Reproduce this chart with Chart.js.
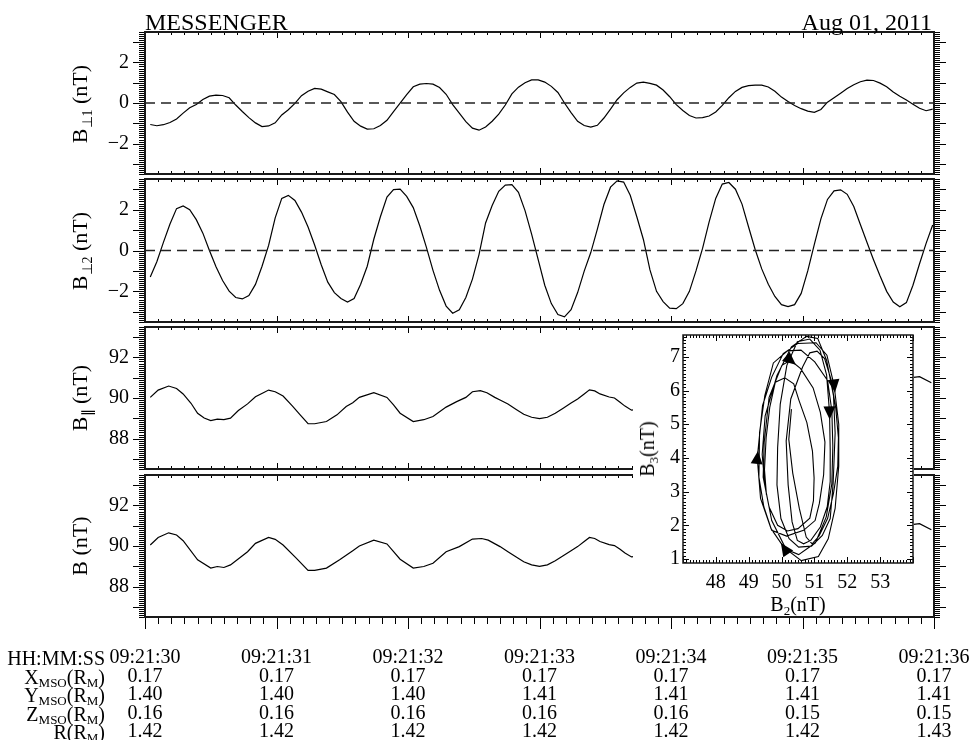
<!DOCTYPE html>
<html><head><meta charset="utf-8">
<script src="https://cdn.jsdelivr.net/npm/chart.js@4.4.1/dist/chart.umd.min.js"></script>
<style>
html,body{margin:0;padding:0;background:#fff;}
body{width:974px;height:740px;position:relative;overflow:hidden;font-family:'Liberation Serif','Times New Roman',serif;color:#000;}
canvas{position:absolute;left:0;}
.t{position:absolute;white-space:nowrap;line-height:1;}
.ylab{position:absolute;transform:translate(-50%,-50%) rotate(-90deg);white-space:nowrap;line-height:1;}
.s22{font-size:14px;position:relative;top:5px;}
.s20{font-size:13px;position:relative;top:4px;}
.s20b{font-size:13px;position:relative;top:3px;}
</style></head>
<body>
<canvas id="p1" width="974" height="166" style="top:20px"></canvas>
<canvas id="p2" width="974" height="167" style="top:167px"></canvas>
<canvas id="p3" width="974" height="166" style="top:315px"></canvas>
<canvas id="p4" width="974" height="277" style="top:463px"></canvas>
<canvas id="ins" width="281" height="287" style="left:633px;top:328px;background:#fff"></canvas>

<div class="t" style="left:145px;top:10px;font-size:24px">MESSENGER</div>
<div class="t" style="right:42px;top:10px;font-size:24px">Aug 01, 2011</div>

<div class="ylab" style="left:80px;top:104px;font-size:22px">B<span class="s22">⊥1</span> (nT)</div>
<div class="ylab" style="left:80px;top:251px;font-size:22px">B<span class="s22">⊥2</span> (nT)</div>
<div class="ylab" style="left:80px;top:398px;font-size:22px">B<span class="s22">∥</span> (nT)</div>
<div class="ylab" style="left:80px;top:546px;font-size:22px">B (nT)</div>

<div class="ylab" style="left:647px;top:449px;font-size:20px">B<span class="s20">3</span>(nT)</div>
<div class="t" style="left:798px;top:594px;font-size:20px;transform:translateX(-50%)">B<span class="s20">2</span>(nT)</div>

<div class="t" style="right:869px;top:648px;font-size:20px">HH:MM:SS</div>
<div class="t" style="right:869px;top:666.5px;font-size:20px">X<span class="s20b">MSO</span>(R<span class="s20b">M</span>)</div>
<div class="t" style="right:869px;top:685px;font-size:20px">Y<span class="s20b">MSO</span>(R<span class="s20b">M</span>)</div>
<div class="t" style="right:869px;top:703.5px;font-size:20px">Z<span class="s20b">MSO</span>(R<span class="s20b">M</span>)</div>
<div class="t" style="right:869px;top:721.5px;font-size:20px">R(R<span class="s20b">M</span>)</div>

<script>
// ---------------- DATA ----------------
// sample times (s after 09:21:30) for the perpendicular components / hodogram
const times = [];
for (let k = 0; k < 120; k++) times.push(+(0.04 + 0.05 * k).toFixed(2));

const bPerp1 = [-1.06,-1.12,-1.07,-0.96,-0.79,-0.50,-0.23,-0.07,0.17,0.34,
 0.39,0.37,0.26,-0.10,-0.42,-0.72,-0.98,-1.16,-1.13,-0.98,
 -0.59,-0.33,-0.02,0.36,0.58,0.72,0.68,0.55,0.42,0.07,
 -0.45,-0.90,-1.14,-1.29,-1.27,-1.11,-0.85,-0.42,-0.01,0.41,
 0.80,0.93,0.96,0.93,0.76,0.43,-0.08,-0.50,-0.92,-1.24,
 -1.34,-1.18,-0.90,-0.55,-0.10,0.45,0.78,1.00,1.14,1.14,
 1.03,0.82,0.52,0.00,-0.47,-0.90,-1.11,-1.19,-1.10,-0.74,
 -0.30,0.16,0.50,0.77,0.98,1.03,0.97,0.88,0.64,0.31,
 -0.08,-0.37,-0.62,-0.74,-0.72,-0.64,-0.44,-0.12,0.26,0.57,
 0.77,0.86,0.88,0.88,0.79,0.58,0.29,0.07,-0.12,-0.28,
 -0.40,-0.46,-0.32,0.04,0.26,0.48,0.71,0.90,1.05,1.13,
 1.11,0.98,0.80,0.54,0.33,0.15,-0.06,-0.26,-0.38,-0.30];

const bPerp2 = [-1.30,-0.55,0.40,1.30,2.05,2.18,2.00,1.51,0.85,0.00,
 -0.80,-1.47,-1.99,-2.30,-2.37,-2.20,-1.66,-0.77,0.25,1.60,
 2.55,2.70,2.45,1.88,1.15,0.27,-0.70,-1.55,-2.06,-2.35,
 -2.52,-2.35,-1.65,-0.77,0.55,1.65,2.62,2.98,3.00,2.65,
 2.10,1.20,0.15,-0.97,-1.95,-2.72,-3.07,-2.90,-2.30,-1.40,
 -0.20,1.35,2.20,2.90,3.20,3.22,2.85,1.95,0.80,-0.45,
 -1.70,-2.60,-3.13,-3.25,-2.90,-2.06,-1.01,-0.10,1.05,2.25,
 3.10,3.41,3.35,2.70,1.65,0.54,-0.95,-2.00,-2.50,-2.82,
 -2.85,-2.60,-2.00,-1.00,0.10,1.40,2.55,3.25,3.33,3.00,
 2.27,1.15,0.05,-0.90,-1.65,-2.25,-2.65,-2.75,-2.65,-2.10,
 -1.00,0.30,1.55,2.50,2.92,2.97,2.75,2.15,1.27,0.40,
 -0.45,-1.25,-2.00,-2.52,-2.75,-2.55,-1.70,-0.65,0.35,1.25];

const bParT = [0.04,0.10,0.18,0.24,0.29,0.35,0.40,0.45,0.50,0.55,0.60,0.65,0.71,0.78,0.84,0.90,0.94,0.99,1.05,1.12,1.18,1.24,1.29,1.38,1.46,1.53,1.58,1.63,1.74,1.84,1.89,1.94,2.04,2.12,2.19,2.29,2.37,2.44,2.49,2.55,2.60,2.66,2.70,2.76,2.82,2.88,2.94,3.00,3.06,3.12,3.18,3.24,3.29,3.34,3.38,3.42,3.46,3.53,3.57,3.61,3.65,3.70,5.83,5.89,5.98];
const bParV = [90.03,90.39,90.59,90.47,90.20,89.74,89.25,89.01,88.89,88.96,88.93,89.01,89.38,89.71,90.06,90.26,90.39,90.31,90.10,89.61,89.17,88.73,88.73,88.84,89.17,89.58,89.77,90.03,90.26,90.03,89.66,89.25,88.84,88.93,89.09,89.55,89.82,90.03,90.31,90.36,90.26,90.03,89.90,89.70,89.45,89.20,89.05,88.98,89.05,89.25,89.50,89.75,89.95,90.20,90.40,90.35,90.20,90.05,90.00,89.80,89.60,89.40,91.00,91.05,90.75];

const bTotT = [0.04,0.10,0.18,0.24,0.29,0.40,0.50,0.55,0.60,0.65,0.78,0.84,0.94,0.99,1.05,1.15,1.24,1.29,1.38,1.48,1.58,1.63,1.74,1.84,1.94,2.04,2.12,2.19,2.29,2.39,2.49,2.56,2.61,2.70,2.76,2.82,2.88,2.94,3.00,3.06,3.12,3.18,3.24,3.29,3.34,3.38,3.42,3.46,3.53,3.57,3.61,3.65,3.70,5.83,5.89,5.98];
const bTotV = [90.05,90.42,90.65,90.54,90.26,89.32,88.91,88.99,88.94,89.07,89.72,90.13,90.42,90.33,90.05,89.40,88.80,88.80,88.91,89.32,89.77,90.00,90.29,90.10,89.35,88.91,88.99,89.15,89.72,89.97,90.34,90.37,90.29,89.97,89.72,89.47,89.22,89.07,89.00,89.07,89.27,89.52,89.77,89.97,90.22,90.42,90.37,90.22,90.07,90.02,89.85,89.65,89.46,91.05,91.10,90.80];

// hodogram (inset): B2 vs B3, same sample times
const hodoB2 = [49.54,49.48,49.53,49.64,49.81,50.10,50.37,50.53,50.77,50.94,
 50.99,50.97,50.86,50.50,50.18,49.88,49.62,49.44,49.47,49.62,
 50.01,50.27,50.58,50.96,51.18,51.32,51.28,51.15,51.02,50.67,
 50.15,49.70,49.46,49.31,49.33,49.49,49.75,50.18,50.59,51.01,
 51.40,51.53,51.56,51.53,51.36,51.03,50.52,50.10,49.68,49.36,
 49.26,49.42,49.70,50.05,50.50,51.05,51.38,51.60,51.74,51.74,
 51.63,51.42,51.12,50.60,50.13,49.70,49.49,49.41,49.50,49.86,
 50.30,50.76,51.10,51.37,51.58,51.63,51.57,51.48,51.24,50.91,
 50.52,50.23,49.98,49.86,49.88,49.96,50.16,50.48,50.86,51.17,
 51.37,51.46,51.48,51.48,51.39,51.18,50.89,50.67,50.48,50.32,
 50.20,50.14,50.28,50.64,50.86,51.08,51.31,51.50,51.65,51.73,
 51.71,51.58,51.40,51.14,50.93,50.75,50.54,50.34,50.22,50.30];
const hodoB3 = [2.90,3.65,4.60,5.50,6.25,6.38,6.20,5.71,5.05,4.20,
 3.40,2.73,2.21,1.90,1.83,2.00,2.54,3.43,4.45,5.80,
 6.75,6.90,6.65,6.08,5.35,4.47,3.50,2.65,2.14,1.85,
 1.68,1.85,2.55,3.43,4.75,5.85,6.82,7.18,7.20,6.85,
 6.30,5.40,4.35,3.23,2.25,1.48,1.13,1.30,1.90,2.80,
 4.00,5.55,6.40,7.10,7.40,7.42,7.05,6.15,5.00,3.75,
 2.50,1.60,1.07,0.95,1.30,2.14,3.19,4.10,5.25,6.45,
 7.30,7.61,7.55,6.90,5.85,4.74,3.25,2.20,1.70,1.38,
 1.35,1.60,2.20,3.20,4.30,5.60,6.75,7.45,7.53,7.20,
 6.47,5.35,4.25,3.30,2.55,1.95,1.55,1.45,1.55,2.10,
 3.20,4.50,5.75,6.70,7.12,7.17,6.95,6.35,5.47,4.60,
 3.75,2.95,2.20,1.68,1.45,1.65,2.50,3.55,4.55,5.45];
const arrowTimes = [1.09, 2.39, 2.54, 2.89, 4.59];

// axis ticks / labels
const timeTicks = [0, 1, 2, 3, 4, 5, 6];
const timeLabels = ['09:21:30','09:21:31','09:21:32','09:21:33','09:21:34','09:21:35','09:21:36'];
const xMso = ['0.17','0.17','0.17','0.17','0.17','0.17','0.17'];
const yMso = ['1.40','1.40','1.40','1.41','1.41','1.41','1.41'];
const zMso = ['0.16','0.16','0.16','0.16','0.16','0.15','0.15'];
const rMso = ['1.42','1.42','1.42','1.42','1.42','1.42','1.43'];
const perpTicks = [-2, 0, 2];
const magTicks = [88, 90, 92];
const hodoXTicks = [48, 49, 50, 51, 52, 53];
const hodoYTicks = [1, 2, 3, 4, 5, 6, 7];
const zeroLineX = [0, 6];
const zeroLineY = [0, 0];

// ---------------- RENDER ----------------
const FONT = "'Liberation Serif', 'Times New Roman', serif";
const fmt = v => (v < 0 ? '\u2212' + Math.abs(v) : String(v));
const pts = (xs, ys) => xs.map((x, i) => ({ x, y: ys[i] }));

const frameTicks = {
  id: 'frameTicks',
  afterDraw(chart, args, o) {
    const { ctx, chartArea: a } = chart;
    const xs = chart.scales.x, ys = chart.scales.y;
    ctx.save();
    ctx.strokeStyle = '#000';
    ctx.lineWidth = 1;
    ctx.beginPath();
    const isMajor = (v, step) => Math.abs(v / step - Math.round(v / step)) < 1e-6;
    const kx0 = Math.ceil(xs.min / o.xMinor - 1e-6), kx1 = Math.floor(xs.max / o.xMinor + 1e-6);
    for (let k = kx0; k <= kx1; k++) {
      const v = k * o.xMinor;
      const maj = isMajor(v, o.xMajor);
      const px = Math.round(xs.getPixelForValue(v)) + 0.5;
      const lt = maj ? o.xInMajor : o.xInMinor;
      ctx.moveTo(px, a.top); ctx.lineTo(px, a.top + lt);
      if (o.bottomOut) {
        const lb = maj ? o.xOutMajor : o.xOutMinor;
        ctx.moveTo(px, a.bottom); ctx.lineTo(px, a.bottom + lb);
      } else {
        ctx.moveTo(px, a.bottom); ctx.lineTo(px, a.bottom - lt);
      }
    }
    const ky0 = Math.ceil(ys.min / o.yMinor - 1e-6), ky1 = Math.floor(ys.max / o.yMinor + 1e-6);
    for (let k = ky0; k <= ky1; k++) {
      const v = k * o.yMinor;
      const maj = isMajor(v, o.yMajor);
      const py = Math.round(ys.getPixelForValue(v)) + 0.5;
      const l = maj ? o.yMajorLen : o.yMinorLen;
      const s = o.yOut ? -1 : 1;
      ctx.moveTo(a.left, py); ctx.lineTo(a.left + s * l, py);
      ctx.moveTo(a.right, py); ctx.lineTo(a.right - s * l, py);
    }
    ctx.stroke();
    ctx.lineWidth = o.frameWidth;
    ctx.strokeStyle = '#1a1a1a';
    ctx.strokeRect(a.left, a.top, a.right - a.left, a.bottom - a.top);
    ctx.restore();
  }
};

const arrowHeads = {
  id: 'arrowHeads',
  afterDatasetsDraw(chart, args, o) {
    if (!o.indices) return;
    const meta = chart.getDatasetMeta(0);
    const ctx = chart.ctx;
    ctx.save();
    ctx.fillStyle = '#000';
    o.indices.forEach(i => {
      const p = meta.data[i], q = meta.data[i + 1];
      if (!p || !q) return;
      let dx = q.x - p.x, dy = q.y - p.y;
      const L = Math.hypot(dx, dy) || 1; dx /= L; dy /= L;
      const tipX = p.x + dx * 7, tipY = p.y + dy * 7;
      const bx = p.x - dx * 6, by = p.y - dy * 6;
      ctx.beginPath();
      ctx.moveTo(tipX, tipY);
      ctx.lineTo(bx - dy * 6, by + dx * 6);
      ctx.lineTo(bx + dy * 6, by - dx * 6);
      ctx.closePath();
      ctx.fill();
    });
    ctx.restore();
  }
};

const lineDs = (data, extra) => Object.assign({
  data, showLine: true, borderColor: '#000', borderWidth: 1.2,
  pointRadius: 0, fill: false, tension: 0
}, extra || {});

function panel(id, datasets, yMin, yMax, yLabels, isLast) {
  const fixY = w => s => { s.width = w; s.paddingTop = 0; s.paddingBottom = 0; };
  return new Chart(document.getElementById(id), {
    type: 'scatter',
    data: { datasets },
    options: {
      responsive: false, animation: false, events: [],
      layout: { padding: { top: 12, bottom: isLast ? 0 : 12, left: 0, right: 0 } },
      plugins: {
        legend: { display: false }, tooltip: { enabled: false },
        frameTicks: {
          xMinor: 0.1, xMajor: 1, xInMinor: 3, xInMajor: 6,
          bottomOut: isLast, xOutMinor: 7, xOutMajor: 12,
          yMinor: 0.1, yMajor: 1, yMinorLen: 6, yMajorLen: 12, yOut: true,
          frameWidth: 2
        }
      },
      scales: {
        x: {
          type: 'linear', min: 0, max: 6, display: isLast,
          afterBuildTicks: s => { s.ticks = timeTicks.map(v => ({ value: v })); },
          afterFit: s => { s.height = isLast ? 123 : 0; s.paddingLeft = 0; s.paddingRight = 0; },
          grid: { display: false, drawTicks: false },
          border: { display: false },
          ticks: {
            autoSkip: false, maxRotation: 0, minRotation: 0, padding: 32, color: '#000',
            font: { family: FONT, size: 20, lineHeight: 0.92 },
            callback: (v, i) => [timeLabels[i], xMso[i], yMso[i], zMso[i], rMso[i]]
          }
        },
        y: {
          type: 'linear', position: 'left', min: yMin, max: yMax,
          afterBuildTicks: s => { s.ticks = yLabels.map(v => ({ value: v })); },
          afterFit: fixY(145),
          grid: { display: false, drawTicks: false },
          border: { display: false },
          ticks: { padding: 16, color: '#000', font: { family: FONT, size: 20 }, callback: v => fmt(v) }
        },
        yR: {
          type: 'linear', position: 'right', min: yMin, max: yMax,
          afterFit: fixY(40),
          grid: { display: false, drawTicks: false },
          border: { display: false },
          ticks: { display: false }
        }
      }
    },
    plugins: [frameTicks]
  });
}

const zeroDs = () => lineDs(pts(zeroLineX, zeroLineY), { borderDash: [10, 6], borderColor: '#222', borderWidth: 1.3 });

panel('p1', [zeroDs(), lineDs(pts(times, bPerp1))], -3.5, 3.5, perpTicks, false);
panel('p2', [zeroDs(), lineDs(pts(times, bPerp2))], -3.5, 3.5, perpTicks, false);
panel('p3', [lineDs(pts(bParT, bParV))], 86.5, 93.5, magTicks, false);
panel('p4', [lineDs(pts(bTotT, bTotV))], 86.5, 93.5, magTicks, true);

// inset hodogram
const arrowIdx = arrowTimes.map(t => times.findIndex(x => Math.abs(x - t) < 1e-6));
new Chart(document.getElementById('ins'), {
  type: 'scatter',
  data: { datasets: [lineDs(pts(hodoB2, hodoB3), { borderWidth: 1.1 })] },
  options: {
    responsive: false, animation: false, events: [],
    layout: { padding: { top: 7, right: 1, left: 0, bottom: 0 } },
    plugins: {
      legend: { display: false }, tooltip: { enabled: false },
      arrowHeads: { indices: arrowIdx },
      frameTicks: {
        xMinor: 0.1, xMajor: 1, xInMinor: 3, xInMajor: 6, bottomOut: false,
        yMinor: 0.1, yMajor: 1, yMinorLen: 3, yMajorLen: 6, yOut: false,
        frameWidth: 1.5
      }
    },
    scales: {
      x: {
        type: 'linear', min: 47, max: 54,
        afterBuildTicks: s => { s.ticks = hodoXTicks.map(v => ({ value: v })); },
        afterFit: s => { s.height = 52; s.paddingLeft = 0; s.paddingRight = 0; },
        grid: { display: false, drawTicks: false }, border: { display: false },
        ticks: { autoSkip: false, maxRotation: 0, padding: 8, color: '#000', font: { family: FONT, size: 20 } }
      },
      y: {
        type: 'linear', min: 0.88, max: 7.65,
        afterBuildTicks: s => { s.ticks = hodoYTicks.map(v => ({ value: v })); },
        afterFit: s => { s.width = 50; s.paddingTop = 0; s.paddingBottom = 0; },
        grid: { display: false, drawTicks: false }, border: { display: false },
        ticks: { padding: 3, color: '#000', font: { family: FONT, size: 20 } }
      }
    }
  },
  plugins: [frameTicks, arrowHeads]
});
</script>
</body></html>
